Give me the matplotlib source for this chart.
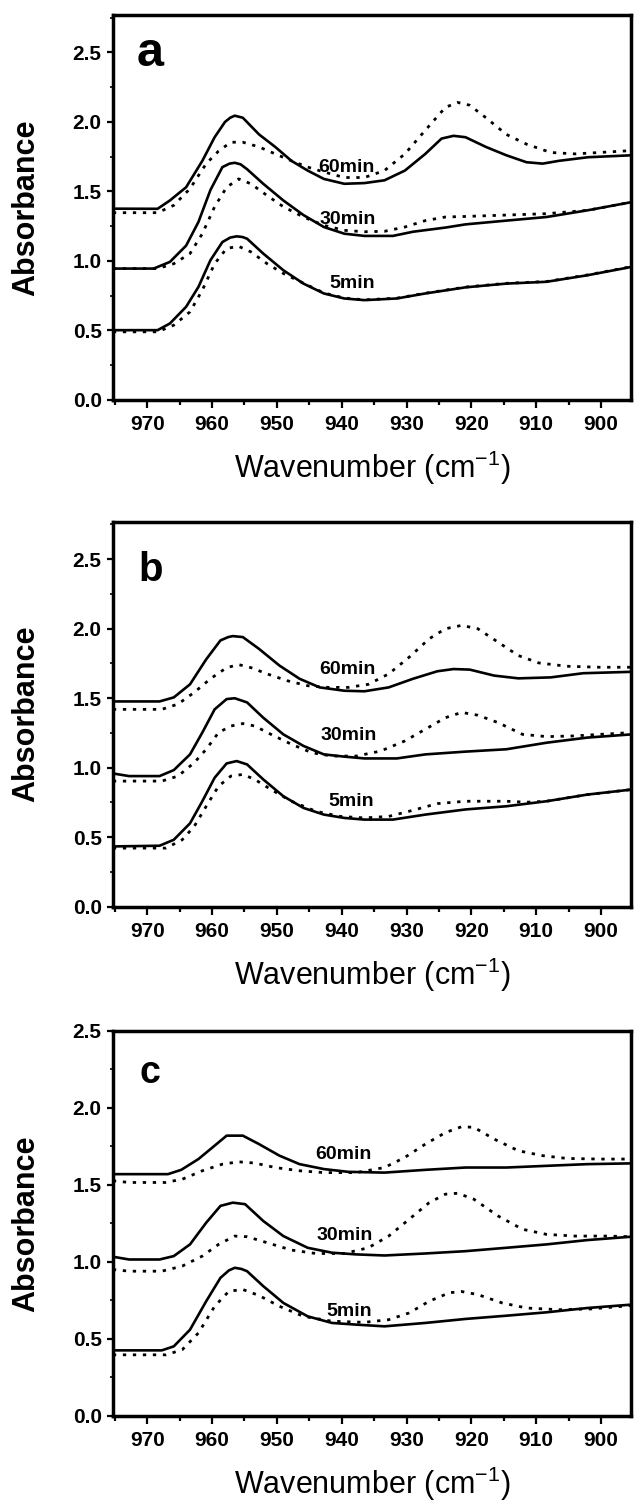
import numpy as np
import matplotlib
matplotlib.use("Agg")
import matplotlib.pyplot as plt
from matplotlib.ticker import MultipleLocator

plt.rcParams['font.family'] = ['Liberation Sans', 'DejaVu Sans']
plt.rcParams['mathtext.fontset'] = 'custom'
plt.rcParams['mathtext.rm'] = 'Liberation Sans'
plt.rcParams['mathtext.it'] = 'Liberation Sans'

# ---- panel a ----
A60_X = [975.3, 968.4, 966.5, 964, 961.5, 959.6, 958, 957.2, 956.5, 955.25, 952.75, 950.25, 947.75, 945.25, 942.75,
         939.6, 936.5, 933.4, 930.25, 927.1, 924.6, 922.75, 920.9, 917.75, 914.6, 911.5, 909, 906.5, 902, 895.3]
A60_Y = [1.376, 1.375, 1.435, 1.53, 1.72, 1.89, 2.0, 2.03, 2.045, 2.03, 1.91, 1.82, 1.72, 1.65, 1.59,
         1.555, 1.56, 1.58, 1.65, 1.77, 1.88, 1.90, 1.89, 1.82, 1.76, 1.71, 1.70, 1.72, 1.746, 1.76]
A60D_X = [975.3, 968.4, 965.9, 963.4, 960.9, 959, 957.1, 955.25, 952.75, 950.25, 947.75, 945.25, 942.75, 939.6,
          936.5, 933.4, 930.25, 927.1, 924, 922.1, 920.25, 917.75, 914.6, 911.5, 907.75, 904, 900.25, 895.3]
A60D_Y = [1.347, 1.347, 1.40, 1.52, 1.70, 1.79, 1.854, 1.854, 1.82, 1.77, 1.72, 1.675, 1.64, 1.60,
          1.60, 1.65, 1.77, 1.94, 2.105, 2.14, 2.12, 2.03, 1.91, 1.84, 1.78, 1.77, 1.78, 1.794]
A30_X = [975.3, 969, 966.5, 964, 962.1, 960.25, 958.4, 957.3, 956.5, 955.6, 954.6, 952.1, 949, 945.9, 942.75, 939.6,
         936.5, 932.1, 929, 924, 920.9, 914.6, 908.4, 902.1, 895.3]
A30_Y = [0.945, 0.945, 0.993, 1.11, 1.28, 1.51, 1.675, 1.70, 1.706, 1.695, 1.66, 1.555, 1.435, 1.33, 1.244, 1.196,
         1.18, 1.18, 1.21, 1.24, 1.263, 1.29, 1.316, 1.364, 1.423]
A30D_X = [975.3, 968.4, 965.9, 963.4, 961.5, 959.6, 957.75, 955.9, 954, 951.5, 949, 945.9, 942.75, 939.6,
          936.5, 933.4, 930.25, 927.1, 924, 920.9, 914.6, 908.4, 902.1, 895.3]
A30D_Y = [0.945, 0.945, 0.98, 1.053, 1.196, 1.39, 1.53, 1.59, 1.555, 1.47, 1.39, 1.316, 1.256, 1.22,
          1.21, 1.213, 1.244, 1.29, 1.316, 1.32, 1.33, 1.34, 1.364, 1.423]
A5_X = [975.3, 968.4, 966.5, 964, 962.1, 960.25, 958.4, 957.2, 956.2, 955.3, 954.6, 952.1, 949, 945.9, 942.75, 939.6,
        936.5, 931.5, 927.1, 920.9, 914.6, 908.4, 902.1, 895.3]
A5_Y = [0.502, 0.502, 0.55, 0.67, 0.813, 1.005, 1.136, 1.168, 1.177, 1.172, 1.16, 1.053, 0.933, 0.837, 0.766, 0.73,
        0.718, 0.73, 0.766, 0.81, 0.837, 0.85, 0.897, 0.957]
A5D_X = [975.3, 968.4, 965.9, 963.4, 961.5, 959.6, 957.75, 955.9, 954, 951.5, 949, 945.9, 942.75, 939.6,
         936.5, 931.5, 927.1, 920.9, 914.6, 908.4, 902.1, 895.3]
A5D_Y = [0.49, 0.49, 0.538, 0.634, 0.79, 0.98, 1.09, 1.105, 1.065, 0.98, 0.91, 0.84, 0.77, 0.733,
         0.72, 0.732, 0.768, 0.812, 0.839, 0.852, 0.899, 0.959]

# ---- panel b ----
B60_X = [975.3, 968.1, 965.9, 963.4, 960.9, 958.7, 957.5, 956.8, 955.25, 952.75, 949.6, 946.5, 943.4, 939.6, 936.5,
         932.75, 929, 925.25, 922.75, 920.25, 916.5, 912.75, 907.75, 902.75, 895.3]
B60_Y = [1.477, 1.477, 1.506, 1.60, 1.78, 1.916, 1.94, 1.947, 1.94, 1.855, 1.735, 1.64, 1.578, 1.554, 1.55,
         1.578, 1.64, 1.694, 1.71, 1.706, 1.663, 1.643, 1.65, 1.68, 1.69]
B60D_X = [975.3, 967.75, 965.25, 962.75, 960.25, 957.75, 955.9, 954, 951.5, 948.4, 945.25, 942.1, 939, 935.9,
          932.75, 929.6, 926.5, 924, 921.5, 919, 915.9, 912.75, 909.6, 905.25, 900.25, 895.3]
B60D_Y = [1.42, 1.42, 1.458, 1.542, 1.64, 1.72, 1.742, 1.72, 1.675, 1.626, 1.59, 1.578, 1.578, 1.60,
          1.675, 1.795, 1.928, 2.0, 2.024, 2.0, 1.904, 1.807, 1.754, 1.73, 1.723, 1.723]
B30_X = [975.3, 972.8, 968.1, 965.9, 963.4, 961.5, 959.6, 957.75, 956.5, 954.6, 952.1, 949, 945.9, 942.75,
         939.6, 936.5, 931.5, 927.1, 920.9, 914.6, 908.4, 902.1, 895.3]
B30_Y = [0.959, 0.94, 0.94, 0.983, 1.096, 1.253, 1.42, 1.494, 1.50, 1.47, 1.36, 1.24, 1.157, 1.096,
         1.08, 1.067, 1.067, 1.096, 1.116, 1.133, 1.18, 1.217, 1.24]
B30D_X = [975.3, 967.75, 965.25, 962.75, 960.9, 959, 957.1, 955.25, 953.4, 950.9, 947.75, 944.6, 941.5, 937.75,
          934, 930.25, 927.1, 924, 921.5, 919, 915.9, 912.1, 908.4, 904, 900.25, 895.3]
B30D_Y = [0.904, 0.904, 0.94, 1.036, 1.133, 1.253, 1.30, 1.318, 1.30, 1.24, 1.169, 1.108, 1.084, 1.084,
          1.12, 1.193, 1.277, 1.36, 1.398, 1.378, 1.325, 1.24, 1.224, 1.229, 1.24, 1.253]
B5_X = [975.3, 968.1, 965.9, 963.4, 961.5, 959.6, 957.75, 956.2, 954.6, 952.1, 949, 945.9, 942.75, 939.6,
        936.5, 932.1, 927.1, 920.9, 914.6, 908.4, 902.1, 895.3]
B5_Y = [0.434, 0.439, 0.482, 0.60, 0.759, 0.928, 1.031, 1.048, 1.024, 0.916, 0.795, 0.711, 0.663, 0.639,
        0.627, 0.627, 0.663, 0.70, 0.723, 0.759, 0.807, 0.843]
B5D_X = [975.3, 967.1, 964.6, 962.75, 960.9, 959, 957.1, 955.25, 953.4, 950.9, 947.75, 944, 940.25, 936.5,
         932.75, 929, 925.25, 920.9, 914.6, 911.5, 908.4, 902.1, 895.3]
B5D_Y = [0.422, 0.422, 0.482, 0.578, 0.723, 0.867, 0.94, 0.952, 0.916, 0.843, 0.759, 0.687, 0.65, 0.639,
         0.65, 0.694, 0.742, 0.759, 0.759, 0.752, 0.759, 0.807, 0.843]

# ---- panel c ----
C60_X = [975.3, 966.8, 964.75, 962.1, 959.6, 957.75, 955.25, 952.75, 949.6, 946.5, 942.75, 939, 933.4,
         927.1, 920.9, 914.6, 908.4, 902.1, 895.3]
C60_Y = [1.57, 1.57, 1.598, 1.668, 1.755, 1.82, 1.82, 1.765, 1.69, 1.635, 1.603, 1.585, 1.58,
         1.598, 1.613, 1.613, 1.624, 1.635, 1.64]
C60D_X = [975.3, 972.8, 967.2, 964.6, 961.5, 958.4, 955.9, 953.4, 950.25, 946.5, 942.75, 937.75, 933.4,
          930.25, 927.1, 924, 921.5, 919.6, 916.5, 912.75, 909, 905.25, 900.25, 895.3]
C60D_Y = [1.527, 1.516, 1.516, 1.537, 1.592, 1.635, 1.65, 1.642, 1.613, 1.592, 1.58, 1.58, 1.613,
          1.679, 1.765, 1.84, 1.878, 1.874, 1.798, 1.722, 1.69, 1.672, 1.668, 1.668]
C30_X = [975.3, 972.8, 968.1, 965.9, 963.4, 960.9, 958.7, 956.8, 954.9, 952.1, 949, 945.25, 941.5, 937.75,
         933.4, 927.1, 920.9, 914.6, 908.4, 902.1, 895.3]
C30_Y = [1.034, 1.016, 1.016, 1.038, 1.114, 1.255, 1.364, 1.385, 1.375, 1.266, 1.168, 1.092, 1.06, 1.049,
         1.042, 1.055, 1.07, 1.092, 1.114, 1.142, 1.164]
C30D_X = [975.3, 972.8, 967.75, 964.6, 961.5, 959, 956.5, 954.6, 951.5, 947.75, 944, 939.6, 935.9, 932.75,
          929.6, 926.5, 924, 922.1, 919.6, 915.9, 912.1, 908.4, 904, 899, 895.3]
C30D_Y = [0.951, 0.94, 0.94, 0.973, 1.038, 1.114, 1.168, 1.164, 1.125, 1.077, 1.055, 1.055, 1.092, 1.168,
          1.277, 1.385, 1.44, 1.446, 1.407, 1.299, 1.212, 1.179, 1.168, 1.168, 1.164]
C5_X = [975.3, 967.75, 965.9, 963.4, 960.9, 958.7, 957.4, 956.5, 955.5, 954.6, 952.1, 949, 945.25, 941.5, 937.75,
        933.4, 927.1, 920.9, 914.6, 908.4, 902.1, 895.3]
C5_Y = [0.426, 0.426, 0.452, 0.56, 0.745, 0.897, 0.945, 0.962, 0.955, 0.94, 0.843, 0.734, 0.647, 0.604, 0.593,
        0.582, 0.604, 0.63, 0.651, 0.673, 0.701, 0.723]
C5D_X = [975.3, 967.1, 964.6, 962.1, 959.6, 957.4, 955.25, 952.75, 949.6, 945.9, 941.5, 936.5, 932.75,
         929.6, 926.5, 923.4, 921.5, 919, 915.25, 911.5, 906.5, 901.5, 895.3]
C5D_Y = [0.397, 0.397, 0.43, 0.539, 0.712, 0.81, 0.821, 0.782, 0.712, 0.647, 0.615, 0.608, 0.625,
         0.669, 0.745, 0.80, 0.808, 0.788, 0.734, 0.701, 0.69, 0.695, 0.717]

TIME_LABELS = ['60min', '30min', '5min']
LABEL_POS = {
    'a': [(939.3, 1.675), (939.1, 1.30), (938.4, 0.837)],
    'b': [(939.1, 1.71), (938.9, 1.229), (938.5, 0.759)],
    'c': [(939.75, 1.70), (939.5, 1.173), (938.9, 0.68)],
}

panels = [
    ('a', [(A60_X, A60_Y, A60D_X, A60D_Y), (A30_X, A30_Y, A30D_X, A30D_Y), (A5_X, A5_Y, A5D_X, A5D_Y)],
     2.77, 0.7339, (969.6, 2.40), 35),
    ('b', [(B60_X, B60_Y, B60D_X, B60D_Y), (B30_X, B30_Y, B30D_X, B30D_Y), (B5_X, B5_Y, B5D_X, B5D_Y)],
     2.77, 0.3967, (969.4, 2.34), 29),
    ('c', [(C60_X, C60_Y, C60D_X, C60D_Y), (C30_X, C30_Y, C30D_X, C30D_Y), (C5_X, C5_Y, C5D_X, C5D_Y)],
     2.5, 0.0579, (969.6, 2.16), 27),
]

fig = plt.figure(figsize=(6.34, 15.03), dpi=100)

for letter, curves, ytop, bottom, letter_xy, letter_size in panels:
    ax = fig.add_axes([0.178, bottom, 0.817, 0.2562])
    for sx, sy, dx, dy in curves:
        ax.plot(sx, sy, color='black', lw=1.9, solid_joinstyle='round')
        ax.plot(dx, dy, color='black', lw=2.0, linestyle=(0, (1.2, 2.4)))
    for (tx, ty), lab in zip(LABEL_POS[letter], TIME_LABELS):
        ax.text(tx, ty, lab, fontsize=14, fontweight='bold', ha='center', va='center')
    ax.text(letter_xy[0], letter_xy[1], letter, fontsize=letter_size, fontweight='bold',
            ha='center', va='baseline')

    ax.set_xlim(975.3, 895.4)
    ax.set_ylim(0, ytop)
    ax.xaxis.set_major_locator(MultipleLocator(10))
    ax.xaxis.set_minor_locator(MultipleLocator(5))
    ax.yaxis.set_major_locator(MultipleLocator(0.5))
    ax.yaxis.set_minor_locator(MultipleLocator(0.25))
    ax.yaxis.set_major_formatter(matplotlib.ticker.FormatStrFormatter('%.1f'))
    ax.tick_params(axis='x', which='major', direction='out', length=6, width=1.6, pad=5, labelsize=15)
    ax.tick_params(axis='x', which='minor', direction='out', length=3.5, width=1.6)
    ax.tick_params(axis='y', which='major', direction='out', length=4, width=1.6, pad=4, labelsize=15)
    ax.tick_params(axis='y', which='minor', direction='out', length=2, width=1.2)
    for t in ax.get_xticklabels() + ax.get_yticklabels():
        t.set_fontweight('bold')
    for s in ax.spines.values():
        s.set_linewidth(2.5)

    ax.set_xlabel('Wavenumber (cm$^{-1}$)', fontsize=22)
    ax.xaxis.label.set_va('center')
    ax.xaxis.set_label_coords(0.5, -0.177)
    ax.set_ylabel('Absorbance', fontsize=22, fontweight='bold')
    ax.yaxis.label.set_va('center')
    ax.yaxis.set_label_coords(-0.167, 0.5)

fig.savefig('out.png', dpi=100)
